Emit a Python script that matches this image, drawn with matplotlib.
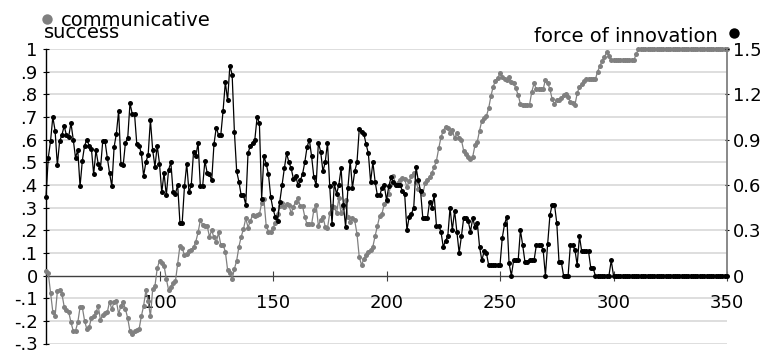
import numpy as np
import matplotlib
matplotlib.use("Agg")
import matplotlib.pyplot as plt
from matplotlib.lines import Line2D

# communicative success (left axis), one value per step from 50 to 350
success = [
    0.02, 0.01, -0.075, -0.16, -0.18, -0.07, -0.063, -0.08, -0.137, -0.15,
    -0.16, -0.207, -0.244, -0.244, -0.207, -0.14, -0.14, -0.2, -0.237, -0.228,
    -0.188, -0.178, -0.163, -0.134, -0.196, -0.174, -0.166, -0.162, -0.115, -0.149,
    -0.115, -0.112, -0.17, -0.134, -0.115, -0.149, -0.188, -0.247, -0.259, -0.247,
    -0.24, -0.237, -0.18, -0.134, -0.066, -0.112, -0.18, -0.06, -0.046, 0.032,
    0.065, 0.054, 0.044, -0.015, -0.063, -0.049, -0.031, -0.026, 0.051, 0.132,
    0.12, 0.091, 0.094, 0.11, 0.113, 0.124, 0.15, 0.19, 0.245, 0.224,
    0.219, 0.219, 0.172, 0.199, 0.168, 0.146, 0.19, 0.135, 0.135, 0.106,
    0.025, 0.01, -0.015, 0.03, 0.066, 0.128, 0.172, 0.205, 0.253, 0.212,
    0.24, 0.268, 0.263, 0.267, 0.27, 0.319, 0.336, 0.219, 0.194, 0.194,
    0.209, 0.234, 0.272, 0.307, 0.322, 0.304, 0.316, 0.312, 0.275, 0.304,
    0.326, 0.341, 0.307, 0.307, 0.26, 0.226, 0.226, 0.226, 0.29, 0.312,
    0.219, 0.246, 0.26, 0.216, 0.209, 0.275, 0.307, 0.301, 0.275, 0.341,
    0.275, 0.301, 0.334, 0.26, 0.238, 0.253, 0.243, 0.184, 0.081, 0.047,
    0.072, 0.091, 0.106, 0.113, 0.128, 0.175, 0.219, 0.263, 0.272, 0.316,
    0.331, 0.36, 0.404, 0.44, 0.40, 0.41, 0.422, 0.43, 0.425, 0.39,
    0.419, 0.44, 0.454, 0.415, 0.381, 0.375, 0.36, 0.407, 0.422, 0.436,
    0.454, 0.478, 0.507, 0.561, 0.61, 0.64, 0.657, 0.65, 0.628, 0.642,
    0.606, 0.628, 0.606, 0.598, 0.551, 0.536, 0.525, 0.513, 0.525, 0.576,
    0.591, 0.64, 0.684, 0.694, 0.704, 0.738, 0.792, 0.834, 0.86, 0.87,
    0.896, 0.878, 0.866, 0.863, 0.878, 0.856, 0.85, 0.826, 0.797, 0.757,
    0.753, 0.753, 0.753, 0.753, 0.811, 0.848, 0.822, 0.822, 0.822, 0.822,
    0.863, 0.851, 0.822, 0.778, 0.757, 0.775, 0.775, 0.782, 0.797, 0.801,
    0.787, 0.767, 0.763, 0.753, 0.804, 0.834, 0.845, 0.86, 0.866, 0.866,
    0.866, 0.866, 0.866, 0.90, 0.925, 0.948, 0.963, 0.988, 0.969, 0.951,
    0.951, 0.951, 0.951, 0.951, 0.951, 0.951, 0.951, 0.951, 0.951, 0.951,
    0.978, 1.0, 1.0, 1.0, 1.0, 1.0, 1.0, 1.0, 1.0, 1.0,
    1.0, 1.0, 1.0, 1.0, 1.0, 1.0, 1.0, 1.0, 1.0, 1.0,
    1.0, 1.0, 1.0, 1.0, 1.0, 1.0, 1.0, 1.0, 1.0, 1.0,
    1.0, 1.0, 1.0, 1.0, 1.0, 1.0, 1.0, 1.0, 1.0, 1.0,
    1.0,
]

# force of innovation (right axis), same steps
force = [
    0.52, 0.78, 0.89, 1.05, 0.96, 0.73, 0.89, 0.93, 0.99, 0.93,
    0.92, 1.01, 0.90, 0.78, 0.83, 0.59, 0.76, 0.86, 0.90, 0.86,
    0.84, 0.67, 0.83, 0.74, 0.71, 0.89, 0.89, 0.78, 0.68, 0.59,
    0.85, 0.94, 1.09, 0.74, 0.73, 0.88, 0.91, 1.14, 1.07, 1.07,
    0.87, 0.86, 0.81, 0.66, 0.75, 0.80, 1.03, 0.83, 0.72, 0.86,
    0.74, 0.55, 0.68, 0.53, 0.70, 0.75, 0.55, 0.54, 0.60, 0.35,
    0.35, 0.59, 0.74, 0.55, 0.60, 0.82, 0.79, 0.88, 0.59, 0.59,
    0.76, 0.68, 0.67, 0.63, 0.87, 0.98, 0.93, 0.93, 1.09, 1.28,
    1.16, 1.39, 1.33, 0.95, 0.69, 0.62, 0.53, 0.53, 0.47, 0.81,
    0.86, 0.88, 0.90, 1.05, 1.01, 0.51, 0.79, 0.74, 0.67, 0.52,
    0.44, 0.39, 0.36, 0.49, 0.60, 0.71, 0.81, 0.75, 0.71, 0.64,
    0.66, 0.60, 0.63, 0.67, 0.75, 0.85, 0.90, 0.79, 0.65, 0.60,
    0.88, 0.82, 0.69, 0.75, 0.88, 0.59, 0.34, 0.61, 0.54, 0.60,
    0.71, 0.47, 0.32, 0.58, 0.76, 0.58, 0.69, 0.75, 0.97, 0.95,
    0.94, 0.87, 0.81, 0.62, 0.75, 0.62, 0.53, 0.53, 0.58, 0.60,
    0.50, 0.59, 0.65, 0.62, 0.60, 0.60, 0.60, 0.56, 0.54, 0.30,
    0.39, 0.41, 0.45, 0.72, 0.63, 0.56, 0.38, 0.38, 0.38, 0.49,
    0.45, 0.53, 0.33, 0.33, 0.29, 0.19, 0.23, 0.26, 0.45, 0.30,
    0.43, 0.29, 0.15, 0.26, 0.38, 0.38, 0.36, 0.29, 0.38, 0.32,
    0.35, 0.19, 0.10, 0.16, 0.15, 0.07, 0.07, 0.07, 0.07, 0.07,
    0.07, 0.25, 0.34, 0.39, 0.08, 0.0, 0.10, 0.10, 0.10, 0.30,
    0.20, 0.09, 0.09, 0.10, 0.10, 0.10, 0.20, 0.20, 0.20, 0.17,
    0.0, 0.21, 0.40, 0.47, 0.47, 0.35, 0.09, 0.09, 0.0, 0.0,
    0.0, 0.20, 0.20, 0.17, 0.07, 0.26, 0.16, 0.16, 0.16, 0.16,
    0.05, 0.05, 0.0, 0.0, 0.0, 0.0, 0.0, 0.0, 0.0, 0.10,
    0.0, 0.0, 0.0, 0.0, 0.0, 0.0, 0.0, 0.0, 0.0, 0.0,
    0.0, 0.0, 0.0, 0.0, 0.0, 0.0, 0.0, 0.0, 0.0, 0.0,
    0.0, 0.0, 0.0, 0.0, 0.0, 0.0, 0.0, 0.0, 0.0, 0.0,
    0.0, 0.0, 0.0, 0.0, 0.0, 0.0, 0.0, 0.0, 0.0, 0.0,
    0.0, 0.0, 0.0, 0.0, 0.0, 0.0, 0.0, 0.0, 0.0, 0.0,
    0.0,
]

x_ticks = [100, 150, 200, 250, 300, 350]
left_ticks = [1.0, 0.9, 0.8, 0.7, 0.6, 0.5, 0.4, 0.3, 0.2, 0.1, 0.0, -0.1, -0.2, -0.3]
left_labels = ["1", ".9", ".8", ".7", ".6", ".5", ".4", ".3", ".2", ".1", "0", "-.1", "-.2", "-.3"]
right_ticks = [0, 0.3, 0.6, 0.9, 1.2, 1.5]
right_labels = ["0", "0.3", "0.6", "0.9", "1.2", "1.5"]

GRAY = "#808080"
W, H = 765, 351

fig = plt.figure(figsize=(W / 100, H / 100), dpi=100)
# axes box in pixels: left spine 46, right spine 727, top (1.0) 49, bottom (-0.3) 343.5
ax1 = fig.add_axes([46 / W, 1 - 343.5 / H, (727 - 46) / W, (343.5 - 49) / H])
ax2 = ax1.twinx()

x1 = np.arange(50, 50 + len(success))
x2 = np.arange(50, 50 + len(force))

ax1.plot(x1, success, color=GRAY, lw=0.9, marker="o", ms=3.6, mec="none", clip_on=False, zorder=3)
ax2.plot(x2, force, color="black", lw=0.9, marker="o", ms=3.6, mec="none", clip_on=False, zorder=3)

ax1.set_xlim(50, 350)
ax1.set_ylim(-0.3, 1.0)
ax2.set_ylim(-0.45, 1.5)

# gridlines
for v in left_ticks:
    if v != 0:
        ax1.axhline(v, color="#d4d4d4", lw=1.1, zorder=0)

ax1.set_yticks(left_ticks)
ax1.set_yticklabels(left_labels)
ax1.set_xticks(x_ticks)
ax2.set_yticks(right_ticks)
ax2.set_yticklabels(right_labels)

for a in (ax1, ax2):
    a.spines["top"].set_visible(False)
ax1.spines["right"].set_visible(False)
ax2.spines["left"].set_visible(False)
ax2.spines["bottom"].set_visible(False)

ax1.spines["bottom"].set_position(("data", 0))
ax1.spines["bottom"].set_color("#404040")
ax1.spines["bottom"].set_linewidth(1.0)
ax1.spines["left"].set_color("black")
ax1.spines["left"].set_linewidth(1.0)
ax2.spines["right"].set_bounds(0, 1.5)
ax2.spines["right"].set_color(GRAY)
ax2.spines["right"].set_linewidth(1.3)

ax1.tick_params(axis="y", direction="inout", length=4, width=0.8, pad=4, labelsize=13)
ax1.tick_params(axis="x", direction="inout", length=7, width=0.8, pad=10, labelsize=13, color="#404040")
ax2.tick_params(axis="y", direction="inout", length=3, width=0.8, pad=3, labelsize=13, color="black")

# legend-like labels at the top corners
fig.add_artist(Line2D([46.7 / W], [1 - 19 / H], marker="o", ms=7.5, color=GRAY, mec="none", ls="none"))
fig.text(61 / W, 1 - 26.5 / H, "communicative", fontsize=14, va="baseline", ha="left")
fig.text(44 / W, 1 - 37.5 / H, "success", fontsize=14, va="baseline", ha="left")
fig.text(718 / W, 1 - 42 / H, "force of innovation", fontsize=14, va="baseline", ha="right")
fig.add_artist(Line2D([734 / W], [1 - 33 / H], marker="o", ms=7.5, color="black", mec="none", ls="none"))

fig.savefig("out.png", dpi=100)
